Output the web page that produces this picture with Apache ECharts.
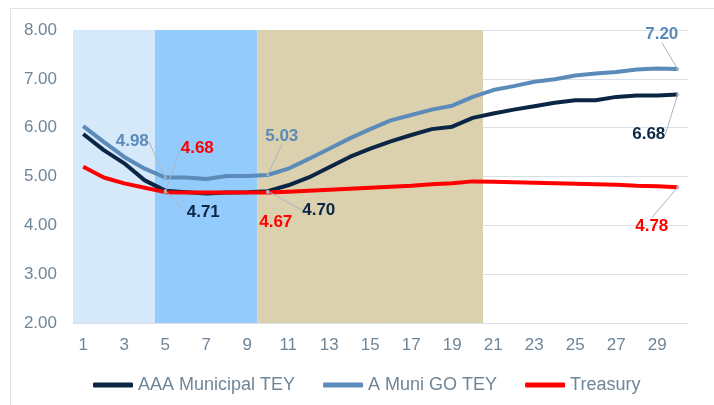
<!DOCTYPE html>
<html>
<head>
<meta charset="utf-8">
<script src="https://cdn.jsdelivr.net/npm/echarts@6/dist/echarts.min.js"></script>
<style>
  html, body { margin: 0; padding: 0; background: #fff; }
  #chart-container { width: 714px; height: 405px; }
</style>
</head>
<body>
<div id="chart-container"></div>
<script>
var categories = ["1", "2", "3", "4", "5", "6", "7", "8", "9", "10",
  "11", "12", "13", "14", "15", "16", "17", "18", "19", "20",
  "21", "22", "23", "24", "25", "26", "27", "28", "29", "30"];

var aaaMunicipal = [5.87, 5.54, 5.27, 4.92, 4.71, 4.68, 4.65, 4.67, 4.68, 4.70,
  4.82, 4.98, 5.19, 5.40, 5.57, 5.72, 5.85, 5.97, 6.02, 6.20,
  6.29, 6.37, 6.44, 6.51, 6.56, 6.56, 6.63, 6.66, 6.66, 6.68];

var aMuniGo = [6.03, 5.71, 5.40, 5.16, 4.98, 4.98, 4.95, 5.01, 5.01, 5.03,
  5.16, 5.36, 5.57, 5.78, 5.97, 6.15, 6.26, 6.37, 6.45, 6.63,
  6.77, 6.85, 6.94, 6.99, 7.07, 7.11, 7.14, 7.19, 7.21, 7.20];

var treasury = [5.20, 4.98, 4.86, 4.77, 4.68, 4.67, 4.67, 4.67, 4.67, 4.67,
  4.69, 4.71, 4.73, 4.75, 4.77, 4.79, 4.81, 4.84, 4.86, 4.90,
  4.89, 4.88, 4.87, 4.86, 4.85, 4.84, 4.83, 4.81, 4.80, 4.78];

// shaded maturity ranges (first / last category of each band)
var bandFrom = [1, 5, 10];
var bandTo = [4, 9, 20];
var bandColors = ["#D5E9FB", "#92CBFC", "#DBD1AF"];

// which points get a value label, and where the label sits relative to the point (px)
var notes = {
  "AAA Municipal TEY": [
    { cat: "5", dx: 38, dy: 22 },
    { cat: "10", dx: 51, dy: 19 },
    { cat: "30", dx: -29, dy: 40 },
  ],
  "A Muni GO TEY": [
    { cat: "5", dx: -33, dy: -36 },
    { cat: "10", dx: 14, dy: -39 },
    { cat: "30", dx: -16, dy: -35 },
  ],
  Treasury: [
    { cat: "5", dx: 32, dy: -44 },
    { cat: "10", dx: 8, dy: 30, noLine: true },
    { cat: "30", dx: -26, dy: 39 },
  ],
};

var FONT = "Liberation Sans, Arial, sans-serif";
var GREY = "#6F8698";
var LEADER = "#A9B6BF";

function findNote(name, idx) {
  var list = notes[name];
  for (var i = 0; i < list.length; i++) {
    if (list[i].cat === categories[idx]) return list[i];
  }
  return null;
}

function lineSeries(name, values, color) {
  var data = values.map(function (v, i) {
    var note = findNote(name, i);
    if (!note) return { value: v, symbol: "none" };
    return {
      value: v,
      itemStyle: { color: LEADER },
      label: { show: true },
      labelLine: { show: !note.noLine },
    };
  });
  return {
    name: name,
    type: "line",
    data: data,
    symbol: "circle",
    symbolSize: 3,
    showSymbol: true,
    showAllSymbol: true,
    z: 5,
    lineStyle: { width: 4, color: color },
    itemStyle: { color: color },
    label: {
      show: false,
      fontFamily: FONT,
      fontSize: 17,
      fontWeight: "bold",
      color: color,
      formatter: function (p) {
        return Number(p.value).toFixed(2);
      },
    },
    labelLine: {
      show: false,
      lineStyle: { color: LEADER, width: 1 },
    },
    labelLayout: function (params) {
      var note = findNote(name, params.dataIndex);
      if (!note) return {};
      var r = params.rect;
      return {
        x: r.x + r.width / 2 + note.dx,
        y: r.y + r.height / 2 + note.dy,
        align: "center",
        verticalAlign: "middle",
      };
    },
    emphasis: { disabled: true },
  };
}

var bandData = bandFrom.map(function (f, i) {
  return [
    { xAxis: f - 0.5, itemStyle: { color: bandColors[i] } },
    { xAxis: bandTo[i] + 0.5 },
  ];
});

var dom = document.getElementById("chart-container");
var myChart = echarts.init(dom, null, { renderer: "canvas" });

var option = {
  animation: false,
  graphic: [
    {
      type: "rect",
      shape: { x: 10.5, y: 8.5, width: 760, height: 440 },
      style: { fill: "none", stroke: "#DDE3E8", lineWidth: 1 },
      silent: true,
    },
  ],
  grid: { left: 73, right: 26, top: 30, bottom: 82 },
  legend: {
    data: ["AAA Municipal TEY", "A Muni GO TEY", "Treasury"],
    left: 88,
    top: 371,
    icon: "roundRect",
    itemWidth: 40,
    itemHeight: 5,
    itemGap: 28,
    textStyle: { fontFamily: FONT, fontSize: 18, color: GREY },
  },
  xAxis: [
    {
      type: "category",
      data: categories,
      boundaryGap: true,
      axisLine: { lineStyle: { color: "#D9E1E8", width: 1 } },
      axisTick: { show: false },
      axisLabel: {
        interval: 1,
        margin: 14,
        fontFamily: FONT,
        fontSize: 17,
        color: GREY,
      },
    },
    {
      type: "value",
      min: 0.5,
      max: 30.5,
      show: false,
    },
  ],
  yAxis: {
    type: "value",
    min: 2,
    max: 8,
    interval: 1,
    axisLine: { show: false },
    axisTick: { show: false },
    splitLine: { lineStyle: { color: "#D9E1E8", width: 1 } },
    axisLabel: {
      margin: 16,
      fontFamily: FONT,
      fontSize: 17,
      color: GREY,
      formatter: function (v) {
        return v.toFixed(2);
      },
    },
  },
  series: [
    {
      name: "bands",
      type: "line",
      xAxisIndex: 1,
      data: [],
      z: 1,
      silent: true,
      markArea: { silent: true, label: { show: false }, data: bandData },
    },
    lineSeries("AAA Municipal TEY", aaaMunicipal, "#0B2645"),
    lineSeries("A Muni GO TEY", aMuniGo, "#5A8BB9"),
    lineSeries("Treasury", treasury, "#FF0000"),
  ],
};

myChart.setOption(option);
window.addEventListener("resize", myChart.resize);
</script>
</body>
</html>
